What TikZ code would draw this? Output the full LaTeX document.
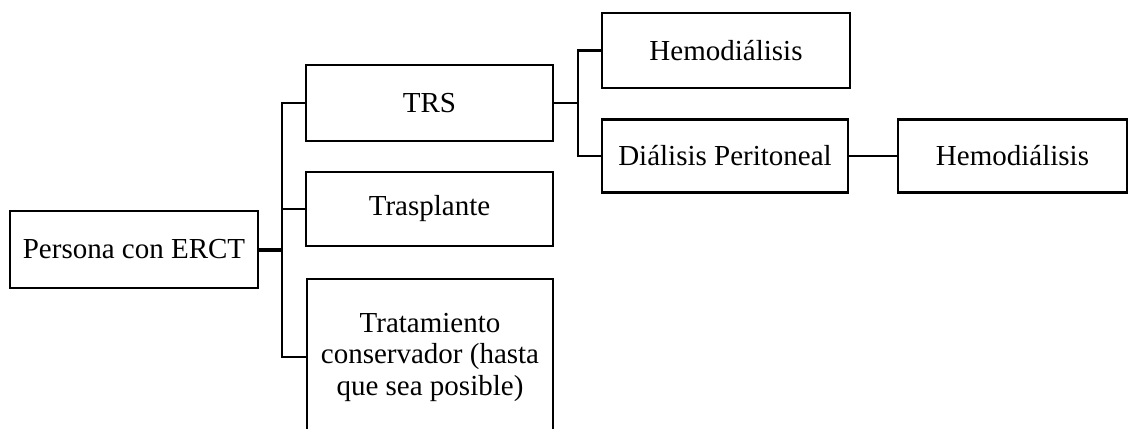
\documentclass[tikz,border=0pt]{standalone}
\usepackage{fontspec}
\setmainfont{Liberation Serif}
\begin{document}
\begin{tikzpicture}[x=1pt,y=-1pt,
  box/.style={draw, line width=2.2pt, inner sep=0pt, align=center,
    font=\fontsize{29}{31.5}\selectfont},
  link/.style={line width=2.6pt, line join=miter},
  mainlink/.style={line width=4pt}]
  \useasboundingbox (0,0) rectangle (1131,428);

  % boxes (centre, width, height in px)
  \node[box, minimum width=248pt, minimum height=77pt] (persona) at (134,249.5) {Persona con ERCT};
  \node[box, minimum width=247pt, minimum height=76pt] (trs) at (429.5,103) {TRS};
  \node[box, minimum width=247pt, minimum height=74pt] (trasplante) at (429.5,209) {Trasplante};
  \node[box, minimum width=246pt, minimum height=156pt] (trat) at (430,357)
    {Tratamiento\\conservador (hasta\\que sea posible)};
  \node[box, minimum width=248pt, minimum height=75pt] (hemoA) at (726,50.5) {Hemodiálisis};
  \node[box, minimum width=246pt, minimum height=73pt] (dp) at (725,156) {Diálisis Peritoneal};
  \node[box, minimum width=229pt, minimum height=73pt] (hemoB) at (1012.5,156) {Hemodiálisis};

  % junction points of the bracket connectors
  \coordinate (j1) at (282,249.5);
  \coordinate (j2) at (578,103);

  % Persona con ERCT -> three options
  \draw[mainlink] (persona.east) -- (j1);
  \draw[link] (trs.west) -| (j1) |- (trat.west);
  \draw[link] (j1 |- trasplante.west) -- (trasplante.west);

  % TRS -> dialysis modalities
  \draw[link] (trs.east) -- (j2);
  \draw[link] (hemoA.west) -| (j2) |- (dp.west);

  % Diálisis Peritoneal -> Hemodiálisis
  \draw[link] (dp.east) -- (hemoB.west);
\end{tikzpicture}
\end{document}
